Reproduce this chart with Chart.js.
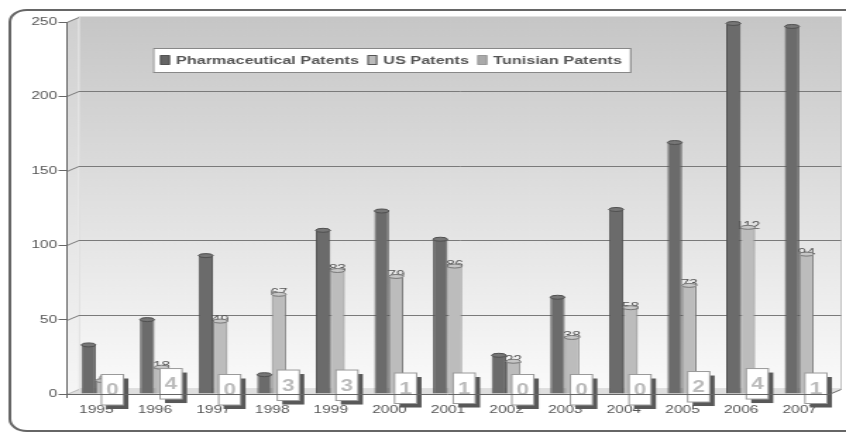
<!DOCTYPE html>
<html>
<head>
<meta charset="utf-8">
<title>Patents 1995-2007</title>
<script src="https://cdn.jsdelivr.net/npm/chart.js@4.4.0/dist/chart.umd.min.js"></script>
<style>
  html, body { margin: 0; padding: 0; background: #fff; overflow: hidden; }
  /* chart is drawn narrow and widened, like the original export */
  #wrap { width: 600px; height: 434px; transform: scaleX(1.41); transform-origin: 0 0; }
</style>
</head>
<body>
<div id="wrap"><canvas id="patentsChart" width="600" height="434"></canvas></div>
<script>
const years = ['1995', '1996', '1997', '1998', '1999', '2000', '2001', '2002', '2003', '2004', '2005', '2006', '2007'];
const pharmaPatents = [33, 50, 93, 13, 110, 123, 104, 26, 65, 124, 169, 249, 247];
const usPatents = [9, 18, 49, 67, 83, 79, 86, 22, 38, 58, 73, 112, 94];
const tunisianPatents = [0, 4, 0, 3, 3, 1, 1, 0, 0, 0, 2, 4, 1];
const yTicks = [0, 50, 100, 150, 200, 250];

const FONT = '"Liberation Sans", Arial, sans-serif';
const DEPTH_X = 8.5;   // back wall offset
const DEPTH_Y = 5;
const BAR_SHIFT = 4.75; // bars sit half way into the depth
const capColors = ['#767676', '#c6c6c6'];

function roundRectPath(ctx, x, y, w, h, r) {
    ctx.beginPath();
    ctx.moveTo(x + r, y);
    ctx.lineTo(x + w - r, y);
    ctx.arcTo(x + w, y, x + w, y + r, r);
    ctx.lineTo(x + w, y + h - r);
    ctx.arcTo(x + w, y + h, x + w - r, y + h, r);
    ctx.lineTo(x + r, y + h);
    ctx.arcTo(x, y + h, x, y + h - r, r);
    ctx.lineTo(x, y + r);
    ctx.arcTo(x, y, x + r, y, r);
    ctx.closePath();
}

// frame, walls, floor and grid lines of the 3d box
const wallsPlugin = {
    id: 'walls',
    beforeDraw: function (chart) {
        const ctx = chart.ctx;
        const a = chart.chartArea;
        const y = chart.scales.y;
        ctx.save();
        ctx.fillStyle = '#fff';
        ctx.fillRect(0, 0, chart.width, chart.height);

        roundRectPath(ctx, 7, 10, 640, 421, 12);
        ctx.strokeStyle = '#666';
        ctx.lineWidth = 2;
        ctx.stroke();

        // back wall
        const g = ctx.createLinearGradient(0, a.top - DEPTH_Y, 0, a.bottom - DEPTH_Y);
        g.addColorStop(0, '#c6c6c6');
        g.addColorStop(1, '#fafafa');
        ctx.fillStyle = g;
        ctx.fillRect(a.left + DEPTH_X, a.top - DEPTH_Y, a.right - a.left, a.bottom - a.top);
        ctx.strokeStyle = '#c4c4c4';
        ctx.lineWidth = 1;
        ctx.strokeRect(a.left + DEPTH_X, a.top - DEPTH_Y, a.right - a.left, a.bottom - a.top);

        // left side wall
        const gs = ctx.createLinearGradient(0, a.top, 0, a.bottom);
        gs.addColorStop(0, '#d0d0d0');
        gs.addColorStop(1, '#f6f6f6');
        ctx.beginPath();
        ctx.moveTo(a.left, a.top);
        ctx.lineTo(a.left + DEPTH_X, a.top - DEPTH_Y);
        ctx.lineTo(a.left + DEPTH_X, a.bottom - DEPTH_Y);
        ctx.lineTo(a.left, a.bottom);
        ctx.closePath();
        ctx.fillStyle = gs;
        ctx.fill();
        ctx.strokeStyle = '#ececec';
        ctx.beginPath();
        ctx.moveTo(a.left + DEPTH_X, a.top - DEPTH_Y);
        ctx.lineTo(a.left + DEPTH_X, a.bottom - DEPTH_Y);
        ctx.stroke();

        // floor
        ctx.beginPath();
        ctx.moveTo(a.left, a.bottom);
        ctx.lineTo(a.left + DEPTH_X, a.bottom - DEPTH_Y);
        ctx.lineTo(a.right + DEPTH_X, a.bottom - DEPTH_Y);
        ctx.lineTo(a.right, a.bottom);
        ctx.closePath();
        ctx.fillStyle = '#dedede';
        ctx.fill();

        // grid lines on the back wall, joined to the axis ticks
        ctx.lineWidth = 1;
        yTicks.forEach(function (v) {
            const py = Math.round(y.getPixelForValue(v)) + 0.5;
            ctx.strokeStyle = (v === 0) ? '#bdbdbd' : '#7a7a7a';
            ctx.beginPath();
            ctx.moveTo(a.left, py);
            ctx.lineTo(a.left + DEPTH_X, py - DEPTH_Y);
            if (v !== 0 && v !== 250) {
                ctx.lineTo(a.right + DEPTH_X, py - DEPTH_Y);
            }
            ctx.stroke();
        });
        ctx.restore();
    }
};

// cylinder caps, value labels, Tunisian value boxes, front edge and legend
const barsPlugin = {
    id: 'bars3d',
    beforeDatasetsDraw: function (chart) {
        const ctx = chart.ctx;
        ctx.save();
        ctx.translate(BAR_SHIFT, 0);
        // US labels sit behind the bar tops
        ctx.font = '11px ' + FONT;
        ctx.fillStyle = '#555';
        ctx.textAlign = 'center';
        ctx.textBaseline = 'alphabetic';
        chart.getDatasetMeta(1).data.forEach(function (bar, i) {
            ctx.fillText(String(usPatents[i]), bar.x, bar.y + 2);
        });
    },
    afterDatasetsDraw: function (chart) {
        const ctx = chart.ctx;
        const a = chart.chartArea;
        [0, 1].forEach(function (di) {
            const ds = chart.data.datasets[di];
            chart.getDatasetMeta(di).data.forEach(function (bar) {
                ctx.beginPath();
                ctx.ellipse(bar.x, bar.y, bar.width / 2, 2, 0, 0, Math.PI * 2);
                ctx.fillStyle = capColors[di];
                ctx.fill();
                ctx.strokeStyle = ds.borderColor;
                ctx.lineWidth = 1;
                ctx.stroke();
            });
        });
        ctx.restore();

        ctx.save();
        // Tunisian values in white boxes
        ctx.font = 'bold 16px ' + FONT;
        ctx.textAlign = 'center';
        ctx.textBaseline = 'middle';
        chart.getDatasetMeta(2).data.forEach(function (bar, i) {
            const w = 15.6, h = 30.5;
            const bx = bar.x + 1.2 - w / 2;
            const by = bar.y - 19.5;
            ctx.fillStyle = '#585858';
            ctx.fillRect(bx + 3.5, by + 4, w, h);
            ctx.fillStyle = '#fff';
            ctx.fillRect(bx, by, w, h);
            ctx.strokeStyle = '#9a9a9a';
            ctx.lineWidth = 1;
            ctx.strokeRect(bx, by, w, h);
            ctx.fillStyle = '#bbb';
            ctx.fillText(String(tunisianPatents[i]), bx + w / 2, by + h / 2 + 1);
        });

        // front edge of the floor
        ctx.strokeStyle = '#666';
        ctx.lineWidth = 1;
        ctx.beginPath();
        ctx.moveTo(a.left, a.bottom + 0.5);
        ctx.lineTo(a.right, a.bottom + 0.5);
        ctx.lineTo(a.right + DEPTH_X, a.bottom - DEPTH_Y + 0.5);
        ctx.stroke();
        ctx.beginPath();
        ctx.moveTo(a.left, a.bottom);
        ctx.lineTo(a.left, a.bottom + 4);
        ctx.stroke();

        // legend
        const lx = 108.5, ly = 48, lw = 338.3, lh = 24;
        ctx.fillStyle = '#fff';
        ctx.fillRect(lx, ly, lw, lh);
        ctx.strokeStyle = '#888';
        ctx.strokeRect(lx + 0.5, ly + 0.5, lw, lh);
        ctx.font = 'bold 11.5px ' + FONT;
        ctx.textAlign = 'left';
        ctx.textBaseline = 'middle';
        let x = 113.5;
        chart.data.datasets.forEach(function (ds) {
            ctx.fillStyle = ds.legendColor;
            ctx.fillRect(x, ly + 7.5, 7, 9);
            ctx.strokeStyle = ds.legendBorder;
            ctx.strokeRect(x + 0.5, ly + 7.5, 6, 9);
            ctx.fillStyle = '#555';
            ctx.fillText(ds.label, x + 11.3, ly + lh / 2 + 0.5);
            x += 11.3 + ctx.measureText(ds.label).width + 6;
        });
        ctx.restore();
    }
};

const data = {
    labels: years,
    datasets: [
        {
            label: 'Pharmaceutical Patents',
            data: pharmaPatents,
            backgroundColor: '#6b6b6b',
            borderColor: '#505050',
            legendColor: '#666',
            legendBorder: '#555'
        },
        {
            label: 'US Patents',
            data: usPatents,
            backgroundColor: '#bcbcbc',
            borderColor: '#777',
            legendColor: '#bbb',
            legendBorder: '#555'
        },
        {
            label: 'Tunisian Patents',
            data: tunisianPatents,
            backgroundColor: '#b4b4b4',
            borderColor: '#888',
            legendColor: '#aaa',
            legendBorder: '#999'
        }
    ]
};

const config = {
    type: 'bar',
    data: data,
    options: {
        responsive: false,
        devicePixelRatio: 1,
        animation: false,
        layout: { padding: { top: 22, right: 12, bottom: 0, left: 0 } },
        datasets: {
            bar: {
                borderWidth: 1,
                borderSkipped: 'bottom',
                categoryPercentage: 0.74,
                barPercentage: 1,
                clip: false
            }
        },
        plugins: {
            legend: { display: false },
            tooltip: { enabled: false }
        },
        scales: {
            x: {
                grid: { display: false, drawTicks: false },
                border: { display: false },
                ticks: {
                    color: '#555',
                    font: { family: FONT, size: 11 },
                    padding: 9,
                    maxRotation: 0,
                    autoSkip: false
                },
                afterFit: function (scale) { scale.height = 40; }
            },
            y: {
                min: 0,
                max: 250,
                afterBuildTicks: function (scale) {
                    scale.ticks = yTicks.map(function (v) { return { value: v }; });
                },
                grid: { drawOnChartArea: false, color: '#666', tickLength: 6 },
                border: { color: '#666' },
                ticks: {
                    color: '#555',
                    font: { family: FONT, size: 11 },
                    padding: 1
                },
                afterFit: function (scale) { scale.width = 47.5; }
            }
        }
    },
    plugins: [wallsPlugin, barsPlugin]
};

const ctx = document.getElementById('patentsChart').getContext('2d');
const patentsChart = new Chart(ctx, config);
</script>
</body>
</html>
